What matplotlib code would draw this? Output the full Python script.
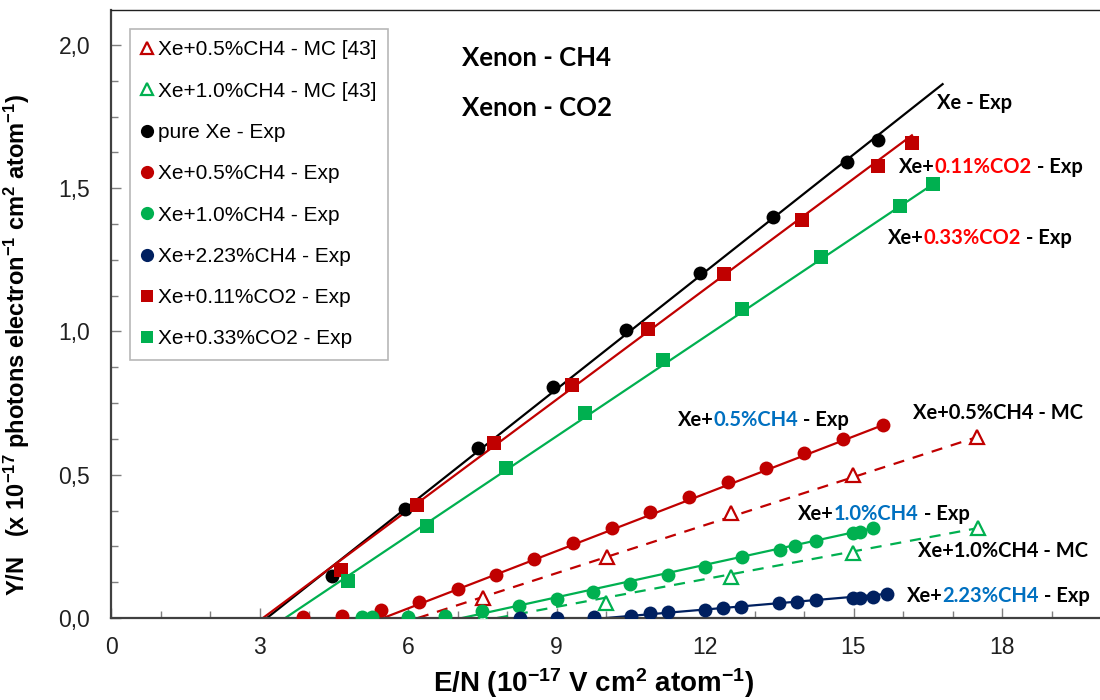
import numpy as np
import matplotlib
matplotlib.use("Agg")
import matplotlib.pyplot as plt
from matplotlib.ticker import MultipleLocator, FuncFormatter

plt.rcParams['font.family'] = ['Liberation Sans', 'DejaVu Sans']
plt.rcParams['mathtext.fontset'] = 'custom'
plt.rcParams['mathtext.rm'] = 'Liberation Sans'
plt.rcParams['mathtext.bf'] = 'Liberation Sans:bold'
plt.rcParams['mathtext.default'] = 'bf'

# measured data, E/N in 1e-17 V cm2 atom-1, Y/N in 1e-17 photons/electron cm2 atom-1
xe_x = [4.46, 5.94, 7.41, 8.93, 10.40, 11.90, 13.37, 14.87, 15.49]
xe_y = [0.147, 0.380, 0.593, 0.806, 1.005, 1.204, 1.400, 1.592, 1.668]

co2_011_x = [4.65, 6.18, 7.74, 9.31, 10.85, 12.38, 13.96, 15.49, 16.18]
co2_011_y = [0.168, 0.394, 0.611, 0.813, 1.009, 1.201, 1.389, 1.578, 1.658]

co2_033_x = [4.79, 6.38, 7.98, 9.58, 11.15, 12.75, 14.34, 15.94, 16.61]
co2_033_y = [0.129, 0.321, 0.524, 0.716, 0.901, 1.079, 1.260, 1.438, 1.515]

ch4_05_x = [3.88, 4.67, 5.45, 6.22, 7.01, 7.78, 8.55, 9.33, 10.12, 10.89,
            11.68, 12.46, 13.23, 14.00, 14.79, 15.60]
ch4_05_y = [0.003, 0.007, 0.028, 0.056, 0.101, 0.150, 0.206, 0.262, 0.314, 0.370,
            0.422, 0.475, 0.524, 0.576, 0.625, 0.674]

ch4_10_x = [5.07, 5.27, 6.00, 6.75, 7.49, 8.24, 9.01, 9.74, 10.48, 11.25,
            12.00, 12.75, 13.52, 13.82, 14.24, 14.99, 15.13, 15.39]
ch4_10_y = [0.003, 0.003, 0.003, 0.007, 0.024, 0.042, 0.066, 0.091, 0.119, 0.150,
            0.178, 0.213, 0.237, 0.251, 0.269, 0.297, 0.300, 0.314]

ch4_223_x = [8.26, 9.01, 9.76, 10.51, 10.89, 11.25, 12.00, 12.36, 12.73, 13.49,
             13.86, 14.24, 14.99, 15.13, 15.39, 15.68]
ch4_223_y = [0.000, 0.000, 0.003, 0.007, 0.017, 0.021, 0.028, 0.035, 0.038, 0.052,
             0.056, 0.063, 0.070, 0.070, 0.073, 0.084]

# Monte Carlo results [43]
mc_05_x = [7.52, 10.02, 12.53, 14.99, 17.49]
mc_05_y = [0.070, 0.213, 0.366, 0.499, 0.632]
mc_10_x = [7.52, 10.00, 12.53, 14.99, 17.52]
mc_10_y = [0.000, 0.052, 0.143, 0.227, 0.314]

# linear fits: (threshold E/N, last E/N, slope)
fit_xe = (3.15, 16.80, 0.1365)
fit_co2_011 = (3.07, 16.18, 0.1285)
fit_co2_033 = (3.52, 16.61, 0.1157)
fit_ch4_05 = (5.50, 15.60, 0.0667)
fit_ch4_10 = (7.09, 15.39, 0.0378)
fit_ch4_223 = (10.00, 15.68, 0.0148)
fit_mc_05 = (6.20, 17.49, 0.0559)
fit_mc_10 = (7.80, 17.52, 0.0323)

RED = '#C00000'
GREEN = '#00B050'
NAVY = '#002060'
TXT_RED = '#FF0000'
TXT_BLUE = '#0070C0'

fig = plt.figure(figsize=(11, 7), dpi=100)
ax = fig.add_axes([111 / 1100, 82 / 700, 990 / 1100, 608 / 700])


def fit_line(fit, color, ls='-'):
    x0, x1, k = fit
    xs = np.array([x0, x1])
    ax.plot(xs, k * (xs - x0), color=color, lw=1.6, ls=ls, zorder=2,
            dashes=(5, 4) if ls == '--' else (None, None))


fit_line(fit_mc_05, RED, '--')
fit_line(fit_mc_10, GREEN, '--')
fit_line(fit_xe, 'black')
fit_line(fit_ch4_05, RED)
fit_line(fit_ch4_10, GREEN)
fit_line(fit_ch4_223, NAVY)
fit_line(fit_co2_011, RED)
fit_line(fit_co2_033, GREEN)

tri = dict(ls='none', marker='^', ms=9.5, mfc='white', mew=1.6, zorder=4)
dot = dict(ls='none', marker='o', ms=10, mew=0, zorder=4)
sq = dict(ls='none', marker='s', ms=9.5, mew=0, zorder=4)

ax.plot(mc_05_x, mc_05_y, color=RED, label='Xe+0.5%CH4 - MC [43]', **tri)
ax.plot(mc_10_x, mc_10_y, color=GREEN, label='Xe+1.0%CH4 - MC [43]', **tri)
ax.plot(xe_x, xe_y, color='black', label='pure Xe - Exp', **dot)
ax.plot(ch4_05_x, ch4_05_y, color=RED, label='Xe+0.5%CH4 - Exp', **dot)
ax.plot(ch4_10_x, ch4_10_y, color=GREEN, label='Xe+1.0%CH4 - Exp', **dot)
ax.plot(ch4_223_x, ch4_223_y, color=NAVY, label='Xe+2.23%CH4 - Exp', **dot)
ax.plot(co2_011_x, co2_011_y, color=RED, label='Xe+0.11%CO2 - Exp', **sq)
ax.plot(co2_033_x, co2_033_y, color=GREEN, label='Xe+0.33%CO2 - Exp', **sq)

ax.set_xlim(0, 20)
ax.set_ylim(0, 2.122)
ax.xaxis.set_major_locator(MultipleLocator(3))
ax.xaxis.set_minor_locator(MultipleLocator(1))
ax.yaxis.set_major_locator(MultipleLocator(0.5))
ax.yaxis.set_minor_locator(MultipleLocator(0.125))
ax.yaxis.set_major_formatter(FuncFormatter(lambda v, p: f'{v:.1f}'.replace('.', ',')))
ax.tick_params(which='both', direction='in', color='#7f7f7f', labelsize=16.5,
               labelcolor='#202020')
ax.tick_params(which='major', length=7, width=1)
ax.tick_params(which='minor', length=5, width=1)
ax.tick_params(axis='x', pad=13)
ax.tick_params(axis='y', pad=15)
for side in ['left', 'bottom']:
    ax.spines[side].set_color('#404040')
    ax.spines[side].set_linewidth(1.6)
ax.spines['top'].set_color('#202020')
ax.spines['top'].set_linewidth(1.0)
ax.spines['right'].set_visible(False)

ax.set_xlabel(r'E/N (10$^{-17}$ V cm$^{2}$ atom$^{-1}$)', fontsize=20, fontweight='bold')
ax.set_ylabel(r'Y/N   (x 10$^{-17}$ photons electron$^{-1}$ cm$^{2}$ atom$^{-1}$)',
              fontsize=17, fontweight='bold')
ax.xaxis.set_label_coords(0.487, -0.080)
ax.yaxis.set_label_coords(-0.080, 0.449)

leg = ax.legend(loc='upper left', bbox_to_anchor=(130 / 1100, 1 - 29 / 700),
                bbox_transform=fig.transFigure, fontsize=15, frameon=True,
                fancybox=False, edgecolor='#a6a6a6', borderaxespad=0,
                handlelength=0.5, handletextpad=0.3, labelspacing=1.07,
                borderpad=0.55, markerscale=0.95)
leg.get_frame().set_linewidth(1.2)

ann_font = dict(family=['Lato', 'DejaVu Sans'], fontweight='bold')
ax.text(7.09, 1.955, 'Xenon - CH4', fontsize=18.5, va='center', **ann_font)
ax.text(7.09, 1.78, 'Xenon - CO2', fontsize=18.5, va='center', **ann_font)


def label(x, y, parts, size=14.5):
    prev = None
    for txt, col in parts:
        if prev is None:
            prev = ax.text(x, y, txt, color=col, fontsize=size, va='center', **ann_font)
        else:
            prev = ax.annotate(txt, xy=(1, 0), xycoords=prev, va='bottom',
                               color=col, fontsize=size, **ann_font)


label(16.69, 1.797, [('Xe - Exp', 'black')])
label(15.92, 1.574, [('Xe+', 'black'), ('0.11%CO2', TXT_RED), (' - Exp', 'black')])
label(15.70, 1.326, [('Xe+', 'black'), ('0.33%CO2', TXT_RED), (' - Exp', 'black')])
label(11.45, 0.691, [('Xe+', 'black'), ('0.5%CH4', TXT_BLUE), (' - Exp', 'black')])
label(16.20, 0.716, [('Xe+0.5%CH4 - MC', 'black')])
label(13.88, 0.363, [('Xe+', 'black'), ('1.0%CH4', TXT_BLUE), (' - Exp', 'black')])
label(16.30, 0.234, [('Xe+1.0%CH4 - MC', 'black')])
label(16.08, 0.077, [('Xe+', 'black'), ('2.23%CH4', TXT_BLUE), (' - Exp', 'black')])

fig.savefig('out.png', dpi=100)
